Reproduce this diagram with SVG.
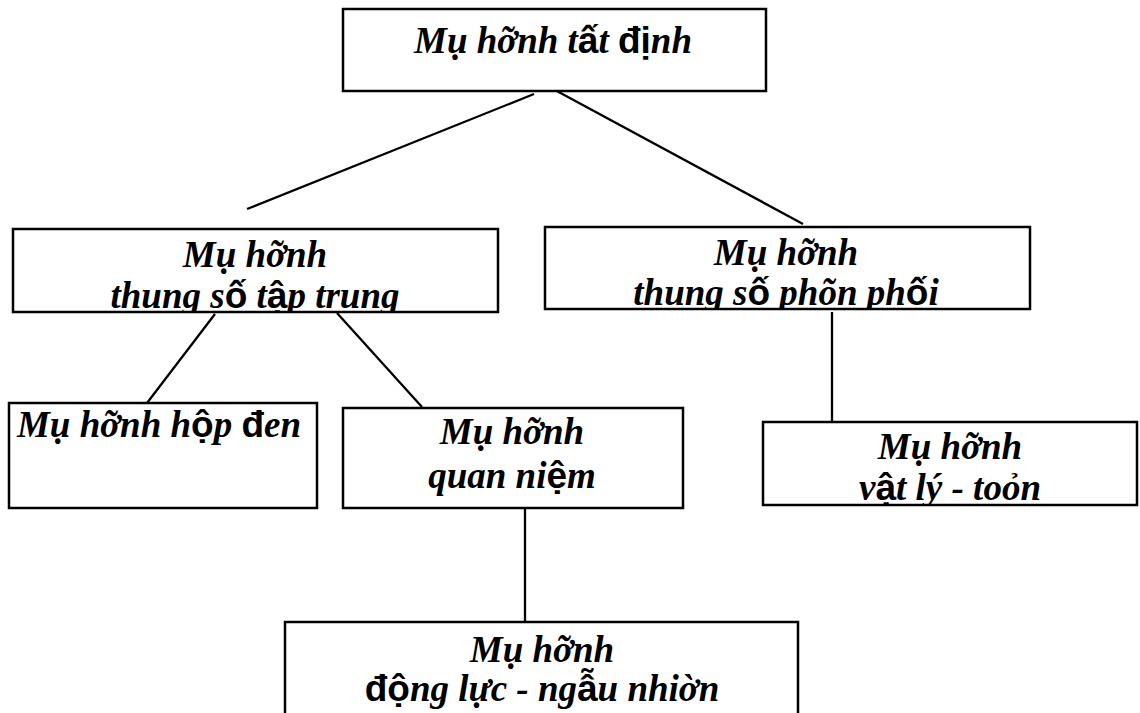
<svg xmlns="http://www.w3.org/2000/svg" width="1140" height="713" viewBox="0 0 1140 713">
  <style>
    .box { fill: #fff; stroke: #000; stroke-width: 2.5; }
    .lbl { font-family: "Liberation Serif", "Times New Roman", serif; font-style: italic; font-weight: bold; font-size: 37px; fill: #000; text-anchor: middle; }
    .s { font-family: "Liberation Sans", Arial, sans-serif; font-style: normal; font-weight: bold; }
    .edge { stroke: #000; stroke-width: 2.3; fill: none; }
  </style>
  <defs>
    <clipPath id="c-root"><rect x="343" y="9" width="423" height="82"/></clipPath>
    <clipPath id="c-central"><rect x="13" y="229" width="485" height="83"/></clipPath>
    <clipPath id="c-distrib"><rect x="545" y="227" width="485" height="82"/></clipPath>
    <clipPath id="c-black"><rect x="9" y="403" width="308" height="105"/></clipPath>
    <clipPath id="c-concept"><rect x="343" y="408" width="340" height="100"/></clipPath>
    <clipPath id="c-phys"><rect x="763" y="422" width="374" height="83"/></clipPath>
    <clipPath id="c-dyn"><rect x="285" y="622" width="513" height="110"/></clipPath>
  </defs>
  <rect width="1140" height="713" fill="#fff"/>

  <g id="connectors">
    <line class="edge" x1="534" y1="94" x2="247" y2="209"/>
    <line class="edge" x1="555" y1="90" x2="803" y2="224"/>
    <line class="edge" x1="215" y1="314" x2="147" y2="403"/>
    <line class="edge" x1="337" y1="313" x2="422" y2="407"/>
    <line class="edge" x1="832" y1="312" x2="832" y2="421"/>
    <line class="edge" x1="525" y1="509" x2="525" y2="622"/>
  </g>

  <g id="root">
    <rect class="box" x="343" y="9" width="423" height="82"/>
    <text class="lbl" x="553" y="53" clip-path="url(#c-root)">Mụ hỡnh t<tspan class="s">ấ</tspan>t <tspan class="s">đị</tspan>nh</text>
  </g>

  <g id="central">
    <rect class="box" x="13" y="229" width="485" height="83"/>
    <g clip-path="url(#c-central)">
      <text class="lbl" x="255" y="267">Mụ hỡnh</text>
      <text class="lbl" x="255" y="308">thung s<tspan class="s">ố</tspan> t<tspan class="s">ậ</tspan>p trung</text>
    </g>
  </g>

  <g id="distrib">
    <rect class="box" x="545" y="227" width="485" height="82"/>
    <g clip-path="url(#c-distrib)">
      <text class="lbl" x="786" y="265">Mụ hỡnh</text>
      <text class="lbl" x="786" y="305">thung s<tspan class="s">ố</tspan> phõn ph<tspan class="s">ố</tspan>i</text>
    </g>
  </g>

  <g id="blackbox">
    <rect class="box" x="9" y="403" width="308" height="105"/>
    <text class="lbl" x="159" y="437" clip-path="url(#c-black)">Mụ hỡnh h<tspan class="s">ộ</tspan>p <tspan class="s">đ</tspan>en</text>
  </g>

  <g id="concept">
    <rect class="box" x="343" y="408" width="340" height="100"/>
    <g clip-path="url(#c-concept)">
      <text class="lbl" x="512" y="444">Mụ hỡnh</text>
      <text class="lbl" x="512" y="488">quan ni<tspan class="s">ệ</tspan>m</text>
    </g>
  </g>

  <g id="physical">
    <rect class="box" x="763" y="422" width="374" height="83"/>
    <g clip-path="url(#c-phys)">
      <text class="lbl" x="950" y="459">Mụ hỡnh</text>
      <text class="lbl" x="950" y="500">v<tspan class="s">ậ</tspan>t lý - toỏn</text>
    </g>
  </g>

  <g id="dynamic">
    <rect class="box" x="285" y="622" width="513" height="110"/>
    <g clip-path="url(#c-dyn)">
      <text class="lbl" x="542" y="662">Mụ hỡnh</text>
      <text class="lbl" x="542" y="701"><tspan class="s">độ</tspan>ng lực - ng<tspan class="s">ẫ</tspan>u nhiờn</text>
    </g>
  </g>
</svg>
